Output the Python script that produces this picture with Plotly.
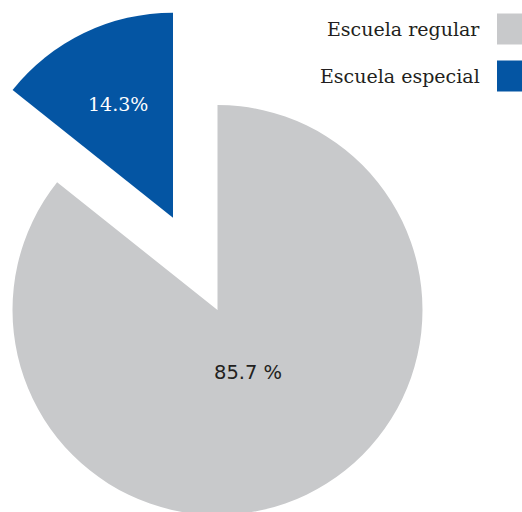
import math
import plotly.graph_objects as go

# ---- data ----
categories = ["Escuela regular", "Escuela especial"]
values = [85.7, 14.3]
slice_text = ["85.7 %", "14.3%"]
pulls = [0, 0.5]
colors = ["#c8c9cb", "#0455a3"]

# ---- styling ----
label_fonts = ["DejaVu Sans", "DejaVu Serif"]
label_sizes = [19.5, 19]
label_colors = ["#231f20", "#ffffff"]
label_radius = [0.34, 0.615]   # fraction of radius along slice mid-angle

# ---- geometry (pixels) ----
SHIFT_X = 90            # page shifted left so the pulled pie fits
FIG_W, FIG_H = 615, 620
R_BOX = 615             # square box for pie
CY_VIEW = 310

fig = go.Figure()
fig.add_trace(go.Pie(
    labels=categories,
    values=values,
    textinfo="none",
    sort=False,
    direction="clockwise",
    rotation=0,
    pull=pulls,
    marker=dict(colors=colors, line=dict(width=0)),
    hoverinfo="label+percent",
    domain=dict(x=[0, 1], y=[1 - (CY_VIEW + R_BOX / 2) / FIG_H, 1 - (CY_VIEW - R_BOX / 2) / FIG_H]),
    showlegend=False,
))


def px_x(vx):
    return (vx + SHIFT_X) / FIG_W


def px_y(vy):
    return 1 - vy / FIG_H


# slice labels placed along each slice's mid-angle (derived from the values)
cx = FIG_W / 2 - SHIFT_X
cy = CY_VIEW
r = (R_BOX / 2) / (1 + max(pulls))
total = sum(values)
start = 0.0
for i, v in enumerate(values):
    span = 360.0 * v / total
    mid = math.radians(start + span / 2)
    start += span
    dx, dy = math.sin(mid), -math.cos(mid)
    ox = cx + pulls[i] * r * dx
    oy = cy + pulls[i] * r * dy
    tx = ox + label_radius[i] * r * dx
    ty = oy + label_radius[i] * r * dy
    fig.add_annotation(x=px_x(tx), y=px_y(ty), xref="paper", yref="paper",
                       text=slice_text[i], showarrow=False,
                       xanchor="center", yanchor="middle",
                       font=dict(family=label_fonts[i], size=label_sizes[i],
                                 color=label_colors[i]))

# custom legend: text right-aligned, swatch on the right
legend_rows = [29, 76]
for i, (cat, col) in enumerate(zip(categories, colors)):
    ly = legend_rows[i]
    fig.add_annotation(x=px_x(482), y=px_y(ly), xref="paper", yref="paper",
                       text=cat, showarrow=False, xanchor="right", yanchor="middle",
                       font=dict(family="DejaVu Serif", size=19, color="#231f20"))
    fig.add_shape(type="rect", xref="paper", yref="paper",
                  x0=px_x(497), x1=1.0, y0=px_y(ly + 15.5), y1=px_y(ly - 15.5),
                  fillcolor=col, line=dict(width=0))

fig.update_layout(
    width=FIG_W, height=FIG_H,
    margin=dict(l=0, r=0, t=0, b=0),
    paper_bgcolor="white",
    plot_bgcolor="white",
)

fig.write_html(
    "out.html",
    post_script=(
        "document.body.style.margin='0';"
        "document.body.style.overflow='hidden';"
        "document.documentElement.style.overflow='hidden';"
        "var d=document.getElementById('{plot_id}');"
        f"d.style.marginLeft='-{SHIFT_X}px';"
    ),
)
